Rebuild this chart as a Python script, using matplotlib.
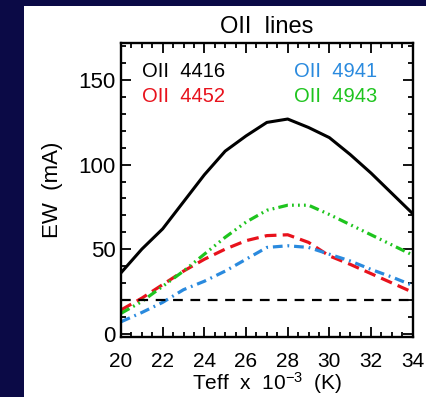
import numpy as np
import matplotlib
matplotlib.use("Agg")
import matplotlib.pyplot as plt
from matplotlib.patches import Rectangle
from matplotlib.ticker import MultipleLocator

plt.rcParams['font.family'] = ['Liberation Sans', 'DejaVu Sans']
plt.rcParams['mathtext.default'] = 'regular'
plt.rcParams['lines.scale_dashes'] = False

# Teff in units of 1000 K
teff = np.arange(20, 35)
ew_4416 = [36, 50, 62, 78, 94, 108, 117, 125, 127, 122, 116, 106, 95, 83, 71]
ew_4452 = [14, 21, 29, 37, 44, 50, 55, 58, 58.5, 54, 46, 41, 35.5, 30, 24.5]
ew_4941 = [7, 12.5, 18.5, 26, 31, 37, 44, 51, 52, 51, 47, 43, 38, 33.5, 28.5]
ew_4943 = [12, 19, 28, 37, 47, 57, 66, 73, 76, 76, 70.5, 64.5, 58.5, 52.5, 46.5]
ew_limit = 20

line_names = ["OII  4416", "OII  4452", "OII  4941", "OII  4943"]
line_colors = ["black", "#e8121c", "#2a8ade", "#1ec41e"]

fig = plt.figure(figsize=(4.27, 3.97), dpi=100, facecolor="#0b0a46")
# white slide panel
fig.patches.append(Rectangle((24 / 427, 0), 1, 391 / 397, transform=fig.transFigure,
                             facecolor="white", edgecolor="none", zorder=-10))

ax = fig.add_axes([121 / 427, 60 / 397, 291.7 / 427, 294 / 397])
ax.set_zorder(1)

ax.plot(teff, ew_4416, color=line_colors[0], lw=2.2)
ax.plot(teff, ew_4452, color=line_colors[1], lw=2.3, linestyle=(0, (8.5, 4.5)))
ax.plot(teff, ew_4941, color=line_colors[2], lw=2.3, linestyle=(0, (7, 3.5, 1.3, 3.5)))
ax.plot(teff, ew_4943, color=line_colors[3], lw=2.3,
        linestyle=(0, (7, 3, 1.3, 3, 1.3, 3, 1.3, 3)))
ax.axhline(ew_limit, color="black", lw=1.6, linestyle=(0, (7, 5.5)))

ax.set_xlim(20, 34)
ax.set_ylim(-2, 172)
ax.xaxis.set_major_locator(MultipleLocator(2))
ax.xaxis.set_minor_locator(MultipleLocator(0.5))
ax.yaxis.set_major_locator(MultipleLocator(50))
ax.yaxis.set_minor_locator(MultipleLocator(10))
ax.tick_params(which="both", direction="in", top=True, right=True, width=1.3)
ax.tick_params(which="major", length=7)
ax.tick_params(which="minor", length=3.5)
ax.tick_params(axis="x", pad=11, labelsize=15)
ax.tick_params(axis="y", pad=4, labelsize=16)
for sp in ax.spines.values():
    sp.set_linewidth(1.7)

ax.set_title("OII  lines", fontsize=17, pad=7)
ax.set_xlabel(r"Teff  x  10$^{-3}$  (K)", fontsize=15, labelpad=-1)
ax.set_ylabel("EW  (mA)", fontsize=16, labelpad=11)

# line labels in two columns
label_pos = [(21.0, 155), (21.0, 140.5), (28.3, 155), (28.3, 140.5)]
for name, color, (x, y) in zip(line_names, line_colors, label_pos):
    ax.text(x, y, name, color=color, fontsize=14.5, va="center", ha="left")

fig.savefig("out.png", dpi=100, facecolor=fig.get_facecolor())
